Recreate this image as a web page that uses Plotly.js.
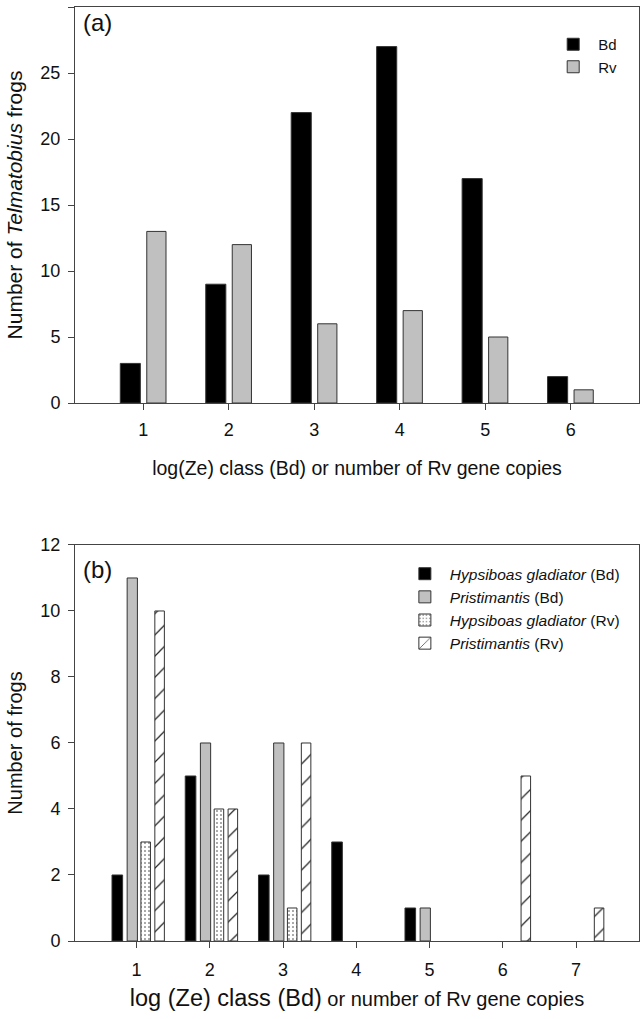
<!DOCTYPE html>
<html><head><meta charset="utf-8">
<script src="https://cdn.plot.ly/plotly-3.0.1.min.js"></script>
<style>html,body{margin:0;padding:0;background:#fff}#chart{width:641px;height:1019px}</style>
</head><body><div id="chart"></div>
<script>
// Panel (a)
const classesA = [1, 2, 3, 4, 5, 6];
const telBd = [3, 9, 22, 27, 17, 2];
const telRv = [13, 12, 6, 7, 5, 1];
// Panel (b)
const classesB = [1, 2, 3, 4, 5, 6, 7];
const hypBd = [2, 5, 2, 3, 1, null, null];
const priBd = [11, 6, 6, null, 1, null, null];
const hypRv = [3, 4, 1, null, null, null, null];
const priRv = [10, 4, 6, null, null, 5, 1];

const F = 'Liberation Sans, Arial, sans-serif';
const edge = {color: '#333', width: 1};

const traces = [
  {type:'bar', x: classesA, y: telBd, name:'Bd', xaxis:'x', yaxis:'y', offset:-0.27, width:0.235,
   marker:{color:'#000', line:edge}, legend:'legend'},
  {type:'bar', x: classesA, y: telRv, name:'Rv', xaxis:'x', yaxis:'y', offset:0.04, width:0.225,
   marker:{color:'#c0c0c0', line:edge}, legend:'legend'},
  {type:'bar', x: classesB, y: hypBd, name:'<i>Hypsiboas gladiator</i> (Bd)', xaxis:'x2', yaxis:'y2', offset:-0.335, width:0.145,
   marker:{color:'#000', line:edge}, legend:'legend2'},
  {type:'bar', x: classesB, y: priBd, name:'<i>Pristimantis</i> (Bd)', xaxis:'x2', yaxis:'y2', offset:-0.128, width:0.14,
   marker:{color:'#c0c0c0', line:edge}, legend:'legend2'},
  {type:'bar', x: classesB, y: hypRv, name:'<i>Hypsiboas gladiator</i> (Rv)', xaxis:'x2', yaxis:'y2', offset:0.06, width:0.13,
   marker:{color:'#fff', line:edge, pattern:{shape:'.', fgcolor:'#333', bgcolor:'#fff', size:4, solidity:0.12}}, legend:'legend2'},
  {type:'bar', x: classesB, y: priRv, name:'<i>Pristimantis</i> (Rv)', xaxis:'x2', yaxis:'y2', offset:0.25, width:0.13,
   marker:{color:'#fff', line:edge, pattern:{shape:'/', fgcolor:'#222', bgcolor:'#fff', size:15, solidity:0.08}}, legend:'legend2'}
];

const axCommon = {showline:true, linecolor:'#444', linewidth:1, mirror:true, ticks:'outside', ticklen:6,
  tickcolor:'#444', showgrid:false, zeroline:false, tickfont:{family:F, size:18, color:'#111'}};

const layout = {
  width:641, height:1019, paper_bgcolor:'#fff', plot_bgcolor:'#fff',
  margin:{l:75, r:2, t:7, b:78},
  barmode:'overlay', showlegend:true,
  font:{family:F, color:'#111'},
  xaxis: Object.assign({}, axCommon, {domain:[0,1], anchor:'y', range:[0.2,6.8], tickvals:classesA, ticklabelstandoff:4,
    title:{text:'log(Ze) class (Bd) or number of Rv gene copies', font:{family:F, size:19.5}, standoff:22}}),
  yaxis: Object.assign({}, axCommon, {domain:[0.576,1], anchor:'x', range:[0,30], dtick:5, ticklabelstandoff:4,
    title:{text:'Number of <i>Telmatobius</i> frogs', font:{family:F, size:21}, standoff:12}}),
  xaxis2: Object.assign({}, axCommon, {domain:[0,1], anchor:'y2', range:[0.16,7.86], tickvals:classesB, ticklabelstandoff:6,
    title:{text:'<span style="font-size:23.5px">log (Ze) class (Bd)</span> or number of Rv gene copies', font:{family:F, size:20}, standoff:13}}),
  yaxis2: Object.assign({}, axCommon, {domain:[0,0.424], anchor:'x2', range:[0,12], dtick:2, ticklabelstandoff:4,
    title:{text:'Number of frogs', font:{family:F, size:20}, standoff:12}}),
  legend:{x:0.839, y:0.9775, xanchor:'left', yanchor:'top', bgcolor:'rgba(0,0,0,0)', font:{family:F, size:15},
    itemwidth:40, tracegroupgap:0},
  legend2:{x:0.576, y:0.411, xanchor:'left', yanchor:'top', bgcolor:'rgba(0,0,0,0)', font:{family:F, size:15.5},
    itemwidth:40, tracegroupgap:0},
  annotations:[
    {text:'(a)', xref:'paper', yref:'paper', x:0.01, y:1.0, xanchor:'left', yanchor:'top', showarrow:false, font:{family:F, size:24}},
    {text:'(b)', xref:'paper', yref:'paper', x:0.01, y:0.414, xanchor:'left', yanchor:'top', showarrow:false, font:{family:F, size:24}}
  ]
};

Plotly.newPlot('chart', traces, layout, {displayModeBar:false, staticPlot:true});
</script></body></html>
